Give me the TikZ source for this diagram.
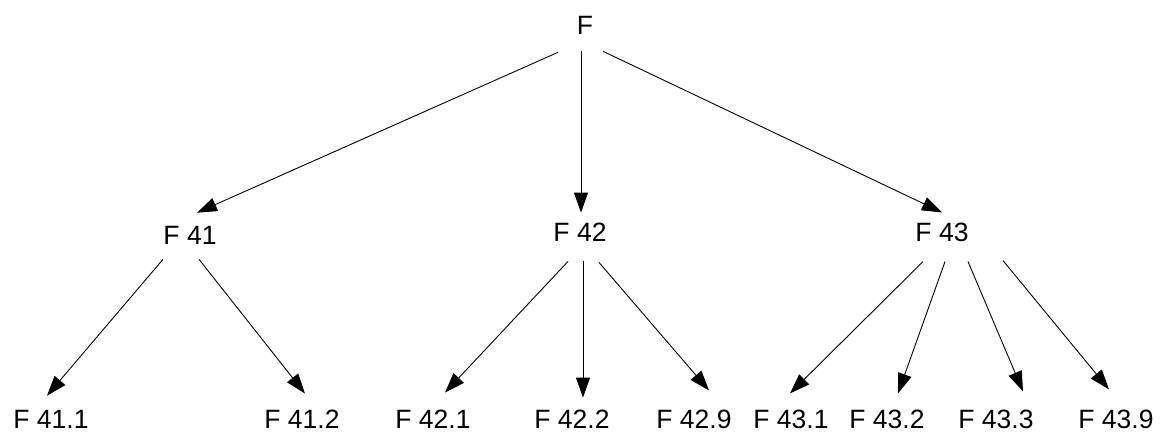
\documentclass[tikz,border=0pt]{standalone}
\usepackage{fontspec}
\setmainfont{Liberation Sans}
\usetikzlibrary{arrows.meta}
\begin{document}
\begin{tikzpicture}[x=1pt,y=-1pt,
  lbl/.style={inner sep=0pt,font=\fontsize{26.5}{30}\selectfont},
  arr/.style={line width=0.9pt,-{Triangle[length=20pt,width=14pt]}}]
\useasboundingbox[fill=white] (0,0) rectangle (1160,432);
% nodes
\node[lbl] (F)   at (585,25)  {F};
\node[lbl] (F41) at (190,235) {F 41};
\node[lbl] (F42) at (580,232) {F 42};
\node[lbl] (F43) at (942,232) {F 43};
\node[lbl] (F411) at (51,419)  {F 41.1};
\node[lbl] (F412) at (302,419) {F 41.2};
\node[lbl] (F421) at (433,419) {F 42.1};
\node[lbl] (F422) at (572,419) {F 42.2};
\node[lbl] (F429) at (694,419) {F 42.9};
\node[lbl] (F431) at (791,419) {F 43.1};
\node[lbl] (F432) at (887,419) {F 43.2};
\node[lbl] (F433) at (996,419) {F 43.3};
\node[lbl] (F439) at (1116,419) {F 43.9};
% connectors
\draw[arr] ([shift={(-27,18)}]F.south) -- ([shift={(7,-13)}]F41.north);
\draw[arr] ([shift={(-4,17)}]F.south)  -- ([shift={(1,-10)}]F42.north);
\draw[arr] ([shift={(18,17)}]F.south)  -- ([shift={(0,-10)}]F43.north);
\draw[arr] ([shift={(-27,15)}]F41.south) -- ([shift={(-4,-14)}]F411.north);
\draw[arr] ([shift={(9,15)}]F41.south)   -- ([shift={(3,-16)}]F412.north);
\draw[arr] ([shift={(-12,20)}]F42.south) -- ([shift={(12,-17)}]F421.north);
\draw[arr] ([shift={(3,20)}]F42.south)   -- ([shift={(11,-12)}]F422.north);
\draw[arr] ([shift={(19,21)}]F42.south)  -- ([shift={(15,-19)}]F429.north);
\draw[arr] ([shift={(-19,20)}]F43.south) -- ([shift={(-1,-16)}]F431.north);
\draw[arr] ([shift={(3,20)}]F43.south)   -- ([shift={(11,-16)}]F432.north);
\draw[arr] ([shift={(26,20)}]F43.south)  -- ([shift={(27,-18)}]F433.north);
\draw[arr] ([shift={(61,19)}]F43.south)  -- ([shift={(-7,-20)}]F439.north);
\end{tikzpicture}
\end{document}
